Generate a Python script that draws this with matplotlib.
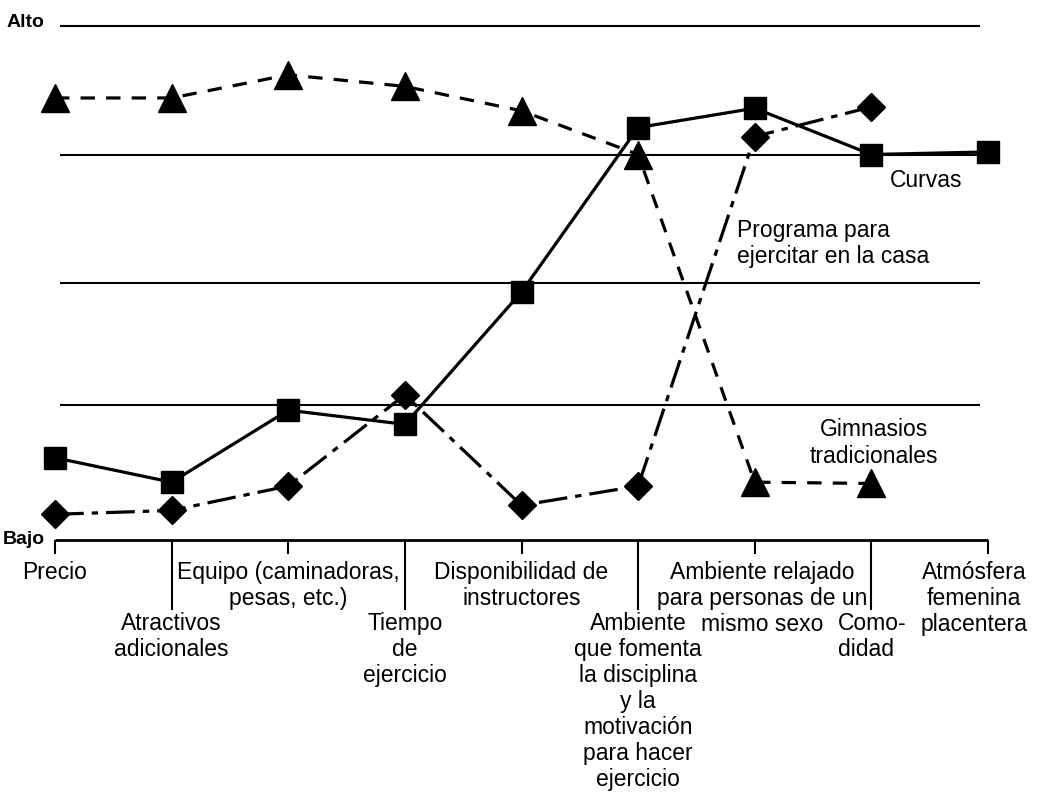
import matplotlib
matplotlib.use("Agg")
import matplotlib.pyplot as plt

plt.rcParams['font.family'] = ['Liberation Sans', 'DejaVu Sans']

# ---- data ----
categories = [
    "Precio",
    "Atractivos\nadicionales",
    "Equipo (caminadoras,\npesas, etc.)",
    "Tiempo\nde\nejercicio",
    "Disponibilidad de\ninstructores",
    "Ambiente\nque fomenta\nla disciplina\ny la\nmotivación\npara hacer\nejercicio",
    "Ambiente relajado\npara personas de un\nmismo sexo",
    "Como-\ndidad",
    "Atmósfera\nfemenina\nplacentera",
]
label_level = [1, 2, 1, 2, 1, 2, 1, 2, 1]

curvas = [0.64, 0.45, 1.01, 0.90, 1.93, 3.21, 3.36, 3.00, 3.02]
programa = [0.20, 0.23, 0.42, 1.13, 0.27, 0.42, 3.14, 3.37]
gimnasios = [3.44, 3.44, 3.62, 3.53, 3.34, 3.00, 0.45, 0.44]

levels = [1.05, 2.0, 3.0, 4.0]
series_names = ["Curvas", "Programa para\nejercitar en la casa", "Gimnasios\ntradicionales"]

W, H = 1039, 802
fig = plt.figure(figsize=(W / 100, H / 100), dpi=100)
x0, x1 = 55, 988
y0, y1 = 540, 26
ax = fig.add_axes([x0 / W, 1 - y0 / H, (x1 - x0) / W, (y0 - y1) / H])
ax.set_xlim(0, len(categories) - 1)
ax.set_ylim(0, 4)
ax.axis('off')

# horizontal reference lines
ax.hlines(levels, 0.04, 7.93, colors='black', lw=1.5, clip_on=False)
# bottom axis
ax.hlines(0, 0, 8, colors='black', lw=2, clip_on=False)

xs = list(range(len(categories)))
ax.plot(xs[:len(curvas)], curvas, color='black', lw=2.3, marker='s', ms=15.5,
        clip_on=False, zorder=3)
ax.plot(xs[:len(programa)], programa, color='black', lw=2.3, marker='D', ms=14.5,
        dashes=(9, 2.5, 2, 2.5), clip_on=False, zorder=3)
ax.plot(xs[:len(gimnasios)], gimnasios, color='black', lw=2.3, marker='^', ms=20,
        dashes=(4.5, 3.5), clip_on=False, zorder=3)

# ticks and category labels (one text per line, 26 px apart)
px_per_unit = (y0 - y1) / 4.0
ux = (x1 - x0) / 8.0
line_px = 26
for x, lab, lvl in zip(xs, categories, label_level):
    tick_len = 14 if lvl == 1 else 70
    ax.vlines(x, -tick_len / px_per_unit, 0, colors='black', lw=1.5, clip_on=False)
    base_px = 579 if lvl == 1 else 630
    ha = 'center'
    xx = x
    if x == 8:
        xx = (974 - x0) / ux
    if x == 6:
        xx = (762 - x0) / ux
    if x == 7:
        xx = (838 - x0) / ux
        ha = 'left'
    for i, line in enumerate(lab.split("\n")):
        yv = (y0 - (base_px + i * line_px)) / px_per_unit
        ax.text(xx, yv, line, ha=ha, va='baseline', fontsize=16.5, clip_on=False)

# axis words
ax.text(-0.09, 4.03, "Alto", ha='right', va='center', fontsize=14, fontweight='bold')
ax.text(-0.09, 0.0, "Bajo", ha='right', va='center', fontsize=14, fontweight='bold')

# series labels
ax.text(7.47, 2.80, series_names[0], ha='center', va='center', fontsize=16.5)
ax.text(5.85, 2.31, series_names[1], ha='left', va='center', fontsize=16.5,
        linespacing=1.18)
ax.text(7.02, 0.755, series_names[2], ha='center', va='center', fontsize=16.5,
        linespacing=1.18)

fig.savefig("out.png", dpi=100)
